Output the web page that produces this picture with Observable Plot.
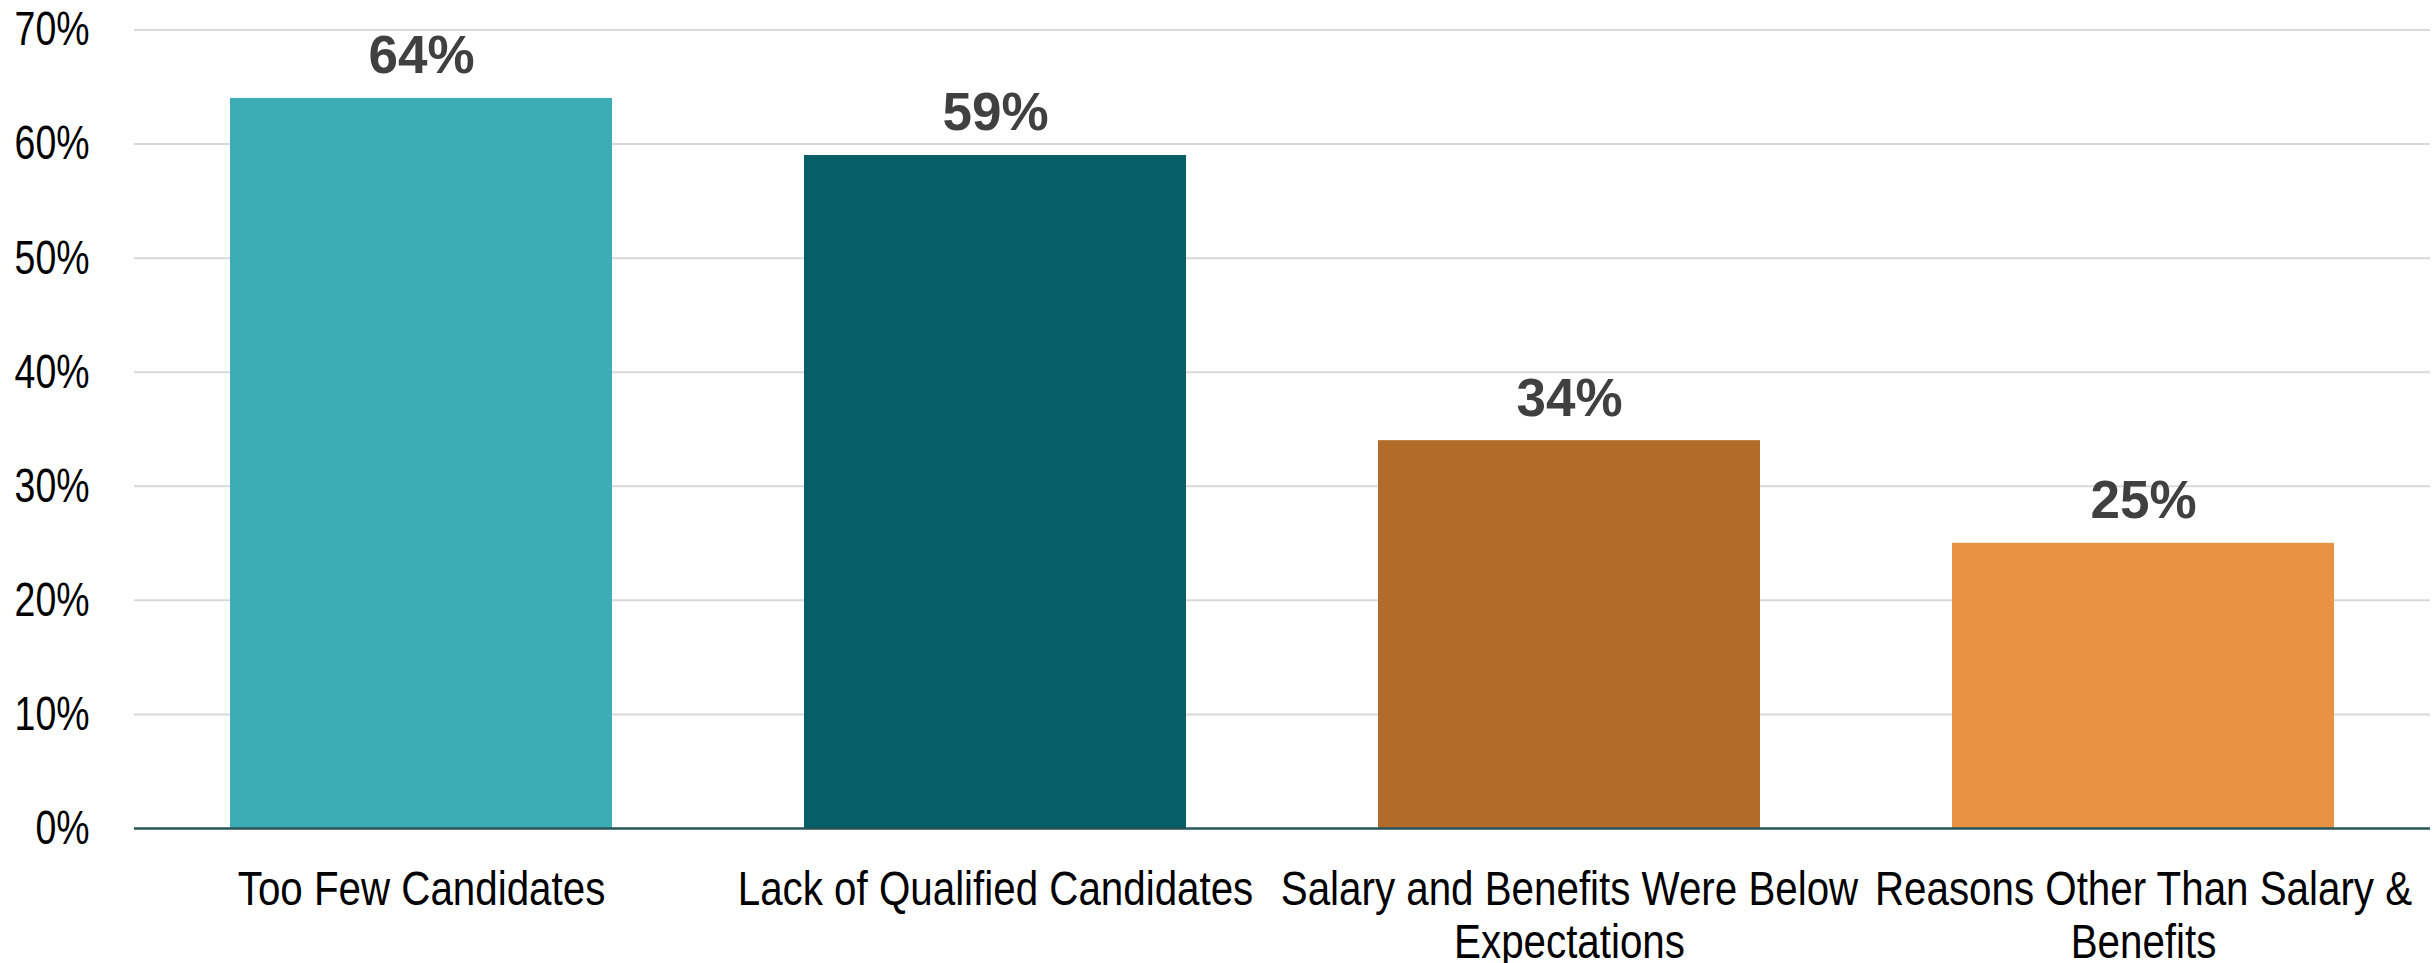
<!DOCTYPE html>
<html>
<head>
<meta charset="utf-8">
<script src="https://cdn.jsdelivr.net/npm/d3@7"></script>
<script src="https://cdn.jsdelivr.net/npm/@observablehq/plot@0.6"></script>
<style>
  html, body { margin: 0; padding: 0; background: #ffffff; }
  #chart svg { display: block; }
</style>
</head>
<body>
<div id="chart"></div>
<script>
const categories = [
  "Too Few Candidates",
  "Lack of Qualified Candidates",
  "Salary and Benefits Were Below Expectations",
  "Reasons Other Than Salary & Benefits"
];
const values = [64, 59, 34, 25];
const tickLabels = [
  "Too Few Candidates",
  "Lack of Qualified Candidates",
  "Salary and Benefits Were Below\nExpectations",
  "Reasons Other Than Salary &\nBenefits"
];
const barColors = ["#3DADB5", "#065E68", "#B26C29", "#EA9243"];
const yTicks = [0, 10, 20, 30, 40, 50, 60, 70];

const data = categories.map((c, i) => ({category: c, value: values[i]}));
const labelOf = new Map(categories.map((c, i) => [c, tickLabels[i]]));

const chart = Plot.plot({
  width: 2435,
  height: 963,
  marginLeft: 134,
  marginRight: 5,
  marginTop: 29.5,
  marginBottom: 135,
  style: {
    fontFamily: "'Liberation Sans', Arial, sans-serif",
    fontSize: "48px",
    color: "#000000",
    background: "#ffffff"
  },
  x: {domain: categories, paddingInner: 0.334, paddingOuter: 0.167, label: null},
  y: {domain: [0, 70], label: null},
  color: {domain: categories, range: barColors},
  marks: [
    Plot.gridY(yTicks.filter(t => t > 0), {stroke: "#d9d9d9", strokeOpacity: 1, strokeWidth: 2}),
    Plot.rect(data, {
      x: "category", y1: "value", y2: "value",
      fill: "#ffffff",
      insetLeft: 222, insetRight: 222,
      insetTop: -76, insetBottom: 9
    }),
    Plot.barY(data, {x: "category", y: "value", fill: "category"}),
    Plot.ruleY([0], {stroke: "#24555a", strokeWidth: 2.5}),
    Plot.text(data, {
      x: "category", y: "value",
      text: d => d.value + "%",
      dy: -25,
      lineAnchor: "bottom",
      fontFamily: "'Liberation Sans', Arial, sans-serif",
      fontWeight: "bold",
      fontSize: 53,
      fill: "#404040"
    }),
    Plot.axisY({
      ticks: yTicks,
      tickFormat: d => d + "%",
      tickSize: 0,
      tickPadding: 45,
      fontSize: 48,
      fill: "#000000",
      label: null
    }),
    Plot.axisX({
      tickFormat: d => labelOf.get(d),
      tickSize: 0,
      tickPadding: 39,
      fontSize: 48,
      lineHeight: 1.1,
      fill: "#000000",
      label: null
    })
  ]
});

document.getElementById("chart").appendChild(chart);

// Narrow the axis tick labels (reference uses a condensed sans face)
function narrow(selector, factor) {
  chart.querySelectorAll(selector).forEach(t => {
    const spans = t.querySelectorAll("tspan");
    const targets = spans.length ? Array.from(spans) : [t];
    targets.forEach(el => {
      const len = el.getComputedTextLength();
      if (len > 0) {
        el.setAttribute("textLength", (len * factor).toFixed(2));
        el.setAttribute("lengthAdjust", "spacingAndGlyphs");
      }
    });
  });
}
narrow('g[aria-label="x-axis tick label"] text', 0.84);
narrow('g[aria-label="y-axis tick label"] text', 0.78);
</script>
</body>
</html>
